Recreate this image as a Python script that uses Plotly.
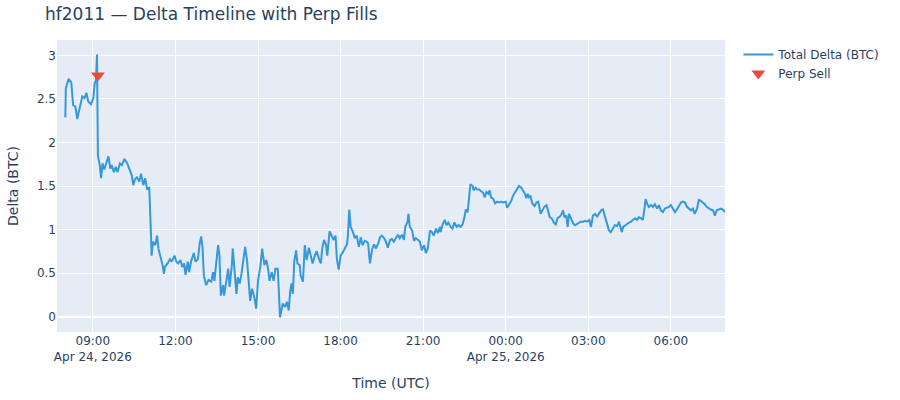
import pandas as pd
import plotly.graph_objects as go

# =========================
# DATA
# =========================

START = pd.Timestamp("2026-04-24 08:00")

# minutes since 08:00 UTC, Apr 24
delta_minutes = [
    0, 1, 7, 13, 17, 22, 26, 29, 33, 37, 42, 46, 50, 56, 61, 64, 67, 69, 71,
    75, 78, 81, 85, 90, 94, 98, 101, 106, 110, 114, 119, 123, 129, 135, 141,
    145, 148, 152, 156, 161, 165, 170, 174, 178, 183, 184, 187, 188, 191, 196,
    200, 203, 207, 212, 215,
    217, 223, 228, 232, 238, 242, 246, 251, 255, 259, 262, 267, 270, 274, 280,
    284, 289, 293, 296, 299, 302, 307, 312, 318, 322, 325, 329, 333, 336, 339,
    344, 346, 351, 355, 358, 363, 365, 368, 373, 376, 380, 384, 389, 392, 396,
    400, 403, 407, 412, 416, 420, 425, 429, 434, 438, 442, 445, 450, 454, 458,
    463, 465, 468,
    474, 479, 483, 487, 490, 493, 496, 499, 503, 506, 511, 513, 518, 522, 526,
    531, 535, 539, 544, 548, 553, 557, 560, 564, 568, 571, 576, 580, 585, 589,
    592, 596, 600, 605, 609, 614, 616, 619, 622, 627, 631, 635, 640, 644, 648,
    653, 657, 660, 664, 669, 673, 677, 682, 686, 690, 695, 699, 703, 708, 712,
    716, 721, 725, 729, 734, 738, 741, 746, 748, 751, 756, 760, 764, 769, 773,
    777, 782, 786, 790, 795, 799, 803, 808, 812, 817,
    818, 822, 827, 831, 835, 840, 844, 848, 853, 857, 862, 866, 870, 873, 877,
    880, 883, 888, 890, 894, 898, 902, 907, 911, 914, 918, 922, 925, 928, 933,
    937, 941, 946, 950, 954, 960, 963, 967, 972, 976, 981, 985, 989, 994, 998,
    1002, 1005, 1008, 1011, 1014, 1018, 1023, 1027, 1031, 1036, 1040, 1044,
    1049, 1052, 1056, 1060, 1065, 1069, 1073, 1078, 1082, 1085, 1088, 1092,
    1095, 1098, 1102, 1107, 1111, 1115, 1120, 1124, 1129, 1133, 1137, 1142,
    1146, 1150, 1155, 1159, 1163, 1168, 1172, 1176, 1181, 1185, 1189, 1194,
    1198, 1203, 1207, 1210, 1213, 1216, 1220, 1224, 1229, 1233, 1237, 1242,
    1246, 1250, 1255, 1259, 1262, 1265, 1268, 1272, 1277, 1281, 1285, 1290,
    1294, 1298, 1303, 1307, 1311, 1316, 1320, 1324, 1329, 1333, 1337, 1342,
    1346, 1351, 1355, 1359, 1364, 1368, 1372, 1377, 1381, 1385, 1390, 1394,
    1398, 1403, 1407, 1412, 1416, 1420, 1425, 1429, 1433, 1438,
]

total_delta = [
    2.29, 2.62, 2.73, 2.69, 2.43, 2.41, 2.27, 2.35, 2.45, 2.53, 2.51, 2.57,
    2.47, 2.44, 2.51, 2.68, 2.72, 3.01, 1.85,
    1.74, 1.59, 1.76, 1.69, 1.78, 1.84, 1.70, 1.74, 1.66, 1.72, 1.66, 1.76,
    1.74, 1.81, 1.76, 1.68, 1.62, 1.51, 1.58, 1.60, 1.55, 1.64, 1.51, 1.59,
    1.47, 1.48, 1.24, 0.90, 0.70, 0.86, 0.82, 0.93, 0.78, 0.70, 0.59, 0.49,
    0.57, 0.61, 0.66, 0.63, 0.70, 0.63, 0.61, 0.65, 0.57, 0.61, 0.48, 0.63,
    0.51, 0.63, 0.73, 0.63, 0.66, 0.84, 0.92, 0.80, 0.47, 0.36, 0.42, 0.40,
    0.51, 0.41, 0.66, 0.82, 0.70, 0.24, 0.36, 0.24, 0.41, 0.55, 0.34, 0.59,
    0.78, 0.57, 0.26, 0.45, 0.38, 0.49, 0.69, 0.80, 0.65, 0.30, 0.18, 0.32,
    0.22, 0.09, 0.41, 0.57, 0.78, 0.59, 0.65, 0.55, 0.41, 0.51, 0.41, 0.55,
    0.55, 0.34, -0.01,
    0.15, 0.11, 0.17, 0.07, 0.28, 0.38, 0.26, 0.63, 0.76, 0.61, 0.59, 0.47,
    0.40, 0.82, 0.65, 0.79, 0.70, 0.61, 0.70, 0.75, 0.66, 0.61, 0.78, 0.88,
    0.83, 0.70, 0.98, 0.94, 0.88, 0.93, 0.66, 0.54, 0.70, 0.74, 0.78, 0.83,
    0.93, 1.23, 1.03, 0.97, 0.90, 0.93, 0.80, 0.91, 0.82, 0.87, 0.86, 0.84,
    0.61, 0.78, 0.83, 0.78, 0.84, 0.91, 0.93, 0.90, 0.86, 0.79, 0.88, 0.89,
    0.86, 0.90, 0.94, 0.90, 0.94, 0.88, 1.03, 1.09, 1.18, 1.03, 0.99, 0.87,
    0.90, 0.88, 0.86, 0.76, 0.82, 0.73, 0.78, 0.99, 0.97, 0.93, 1.01, 0.96,
    1.03,
    0.97, 1.05, 1.11, 1.05, 1.08, 1.03, 1.01, 1.08, 1.03, 1.05, 1.03, 1.06,
    1.14, 1.23, 1.20, 1.37, 1.52, 1.50, 1.45, 1.48, 1.46, 1.46, 1.44, 1.42,
    1.37, 1.43, 1.41, 1.45, 1.37, 1.35, 1.30, 1.32, 1.31, 1.32, 1.31, 1.32,
    1.25, 1.28, 1.33, 1.39, 1.43, 1.46, 1.50, 1.48, 1.45, 1.41, 1.36, 1.41,
    1.37, 1.38, 1.30, 1.27, 1.31, 1.32, 1.18, 1.23, 1.26, 1.28, 1.22, 1.14,
    1.13, 1.08, 1.06, 1.13, 1.15, 1.18, 1.22, 1.14, 1.16, 1.03, 1.18, 1.13,
    1.07, 1.05, 1.06, 1.08, 1.09, 1.09, 1.10, 1.09, 1.11, 1.03, 1.16, 1.18,
    1.15, 1.18, 1.22, 1.23, 1.16, 1.06, 0.99, 0.97, 1.01, 1.05, 1.04, 1.09,
    1.03, 0.97, 1.03, 1.05, 1.06, 1.08, 1.09, 1.11, 1.13, 1.11, 1.14, 1.13,
    1.11, 1.22, 1.35, 1.30, 1.26, 1.28, 1.26, 1.29, 1.24, 1.28, 1.22, 1.20,
    1.24, 1.25, 1.26, 1.28, 1.24, 1.20, 1.23, 1.26, 1.31, 1.32, 1.31, 1.26,
    1.24, 1.22, 1.24, 1.18, 1.24, 1.34, 1.33, 1.31, 1.29, 1.26, 1.24, 1.23,
    1.22, 1.16, 1.22, 1.23, 1.24, 1.23, 1.20,
]

perp_sell_minutes = [71]
perp_sell_delta = [2.77]

# =========================
# THEME
# =========================

LINE_BLUE = "#3498db"
SELL_RED = "#e74c3c"
FONT = "DejaVu Sans"

delta_time = START + pd.to_timedelta(delta_minutes, unit="min")
sell_time = START + pd.to_timedelta(perp_sell_minutes, unit="min")

# =========================
# FIGURE
# =========================

fig = go.Figure()

fig.add_trace(
    go.Scatter(
        x=delta_time,
        y=total_delta,
        mode="lines",
        name="Total Delta (BTC)",
        line=dict(color=LINE_BLUE, width=2)
    )
)

fig.add_trace(
    go.Scatter(
        x=sell_time,
        y=perp_sell_delta,
        mode="markers",
        name="Perp Sell",
        marker=dict(symbol="triangle-down", size=12, color=SELL_RED)
    )
)

fig.update_layout(
    title=dict(
        text="hf2011 — Delta Timeline with Perp Fills",
        font=dict(size=17),
        y=0.965,
        yanchor="middle"
    ),
    font=dict(family=FONT),
    xaxis_title="Time (UTC)",
    yaxis_title="Delta (BTC)",
    template="plotly",
    width=900,
    height=400,
    margin=dict(l=57, r=175, t=40, b=68)
)

# full-window figure, no page margin, no toolbar
fig.write_html(
    "out.html",
    config={"displayModeBar": False},
    post_script="document.body.style.margin = '0';"
)
